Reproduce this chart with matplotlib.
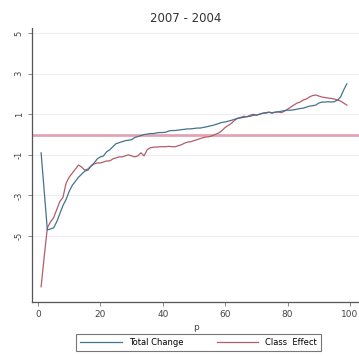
import numpy as np
import matplotlib
matplotlib.use("Agg")
import matplotlib.pyplot as plt

p = list(range(1, 100))
total_change = [
    -0.9, -2.8, -4.7, -4.65, -4.6, -4.3, -3.9, -3.5, -3.2, -2.8,
    -2.5, -2.3, -2.1, -1.95, -1.8, -1.75, -1.55, -1.4, -1.2, -1.1,
    -1.05, -0.85, -0.75, -0.6, -0.45, -0.4, -0.35, -0.3, -0.28, -0.25,
    -0.15, -0.1, -0.05, 0.0, 0.02, 0.05, 0.05, 0.08, 0.1, 0.1,
    0.12, 0.18, 0.2, 0.2, 0.22, 0.24, 0.26, 0.28, 0.28, 0.3,
    0.32, 0.32, 0.35, 0.38, 0.42, 0.45, 0.5, 0.55, 0.6, 0.62,
    0.66, 0.7, 0.75, 0.8, 0.82, 0.85, 0.88, 0.9, 0.95, 0.96,
    1.0, 1.05, 1.08, 1.1, 1.08, 1.1, 1.12, 1.15, 1.18, 1.2,
    1.2, 1.22, 1.25, 1.28, 1.3, 1.35, 1.4, 1.42, 1.45, 1.55,
    1.6, 1.6, 1.62, 1.6, 1.62, 1.7, 1.85, 2.2, 2.5,
]
class_effect = [
    -7.5, -6.0, -4.6, -4.3, -4.1, -3.7, -3.3, -3.1, -2.4, -2.1,
    -1.9, -1.7, -1.5, -1.6, -1.75, -1.7, -1.55, -1.45, -1.4, -1.4,
    -1.35, -1.3, -1.3, -1.2, -1.15, -1.1, -1.1, -1.05, -1.0, -1.05,
    -1.1, -1.05, -0.9, -1.05, -0.75, -0.65, -0.62, -0.62, -0.6, -0.6,
    -0.6, -0.58, -0.6, -0.6, -0.55, -0.5, -0.42, -0.37, -0.35, -0.3,
    -0.25, -0.2, -0.15, -0.12, -0.1, -0.05, 0.02, 0.08, 0.2, 0.35,
    0.45, 0.55, 0.7, 0.8, 0.85, 0.9, 0.88, 0.95, 1.0, 0.95,
    1.0, 1.05, 1.05, 1.1, 1.05, 1.1, 1.12, 1.08, 1.15, 1.25,
    1.35, 1.45, 1.55, 1.6, 1.7, 1.75, 1.85, 1.92, 1.95, 1.9,
    1.85, 1.82, 1.8, 1.78, 1.75, 1.7, 1.65, 1.55, 1.45,
]
yticks = [-5, -3, -1, 1, 3, 5]
xticks = [0, 20, 40, 60, 80, 100]
title = "2007 - 2004"

W, H = 359, 356
fig = plt.figure(figsize=(W / 100, H / 100), dpi=100)
ax = fig.add_axes([32 / W, 1 - 302 / H, (359 - 32) / W, (302 - 28) / H])

ax.set_xlim(-1.92, 102.9)
ax.set_ylim(-8.25, 5.25)

for yv in yticks:
    ax.axhline(yv, color="#eeeef2", lw=0.8, zorder=0)
ax.axhline(0, color="#e3a3b6", lw=2.0, zorder=1)

ax.plot(p, total_change, color="#44728f", lw=0.9, label="Total Change", zorder=3)
ax.plot(p, class_effect, color="#b35d69", lw=0.9, label="Class  Effect", zorder=2)

for s in ["top", "right"]:
    ax.spines[s].set_visible(False)
ax.spines["left"].set_color("#555555")
ax.spines["bottom"].set_color("#555555")
ax.spines["left"].set_linewidth(0.9)
ax.spines["bottom"].set_linewidth(0.9)

ax.set_yticks(yticks)
ax.set_yticklabels([str(v) for v in yticks], rotation=90, va="center", fontsize=6, color="#444444")
ax.set_xticks(xticks)
ax.set_xticklabels([str(v) for v in xticks], fontsize=6.5, color="#444444")
ax.tick_params(axis="both", length=3, width=0.6, color="#777777", pad=3)
ax.set_xlabel("p", fontsize=6.5, color="#444444", labelpad=3)

fig.text(186 / W, 1 - 18 / H, title, ha="center", va="center", fontsize=8.5, color="#333333")

leg = fig.legend(loc="lower left", bbox_to_anchor=(72 / W, 1 - 355 / H, (325 - 72) / W, 22 / H),
                 ncol=2, mode="expand", fontsize=6, frameon=True, fancybox=False,
                 edgecolor="#555555", handlelength=5, borderpad=0.5, columnspacing=3)
leg.get_frame().set_linewidth(0.8)

fig.savefig("out.png", dpi=100, facecolor="white")
